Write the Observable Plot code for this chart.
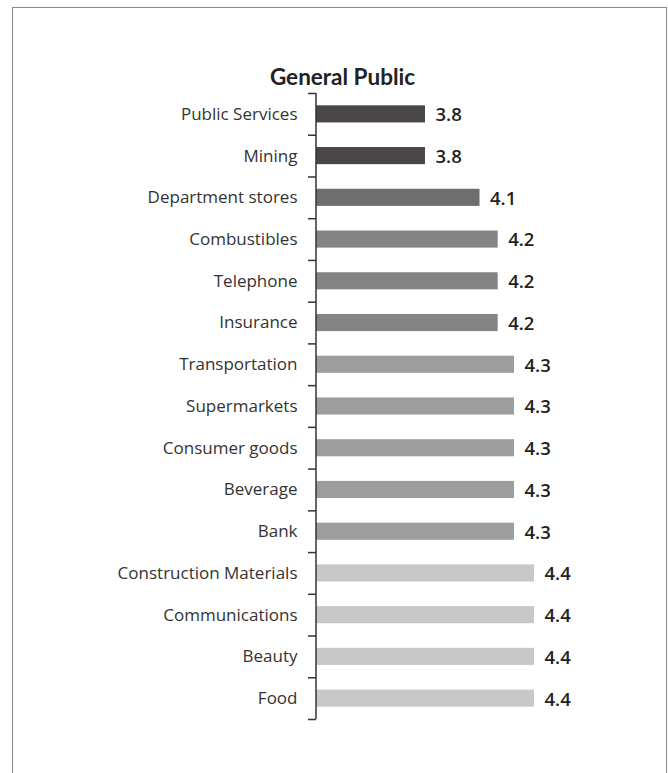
<!DOCTYPE html>
<html><head><meta charset="utf-8">
<script src="https://cdn.jsdelivr.net/npm/d3@7"></script>
<script src="https://cdn.jsdelivr.net/npm/@observablehq/plot@0.6"></script>
<style>
html,body{margin:0;padding:0;background:#fff;width:668px;height:773px;overflow:hidden;}
#frame{position:absolute;left:12px;top:7px;width:655px;height:820px;border:1.5px solid #8a8a8a;border-bottom:none;box-sizing:border-box;}
#title{position:absolute;left:0;width:685px;top:66px;line-height:22px;text-align:center;font-family:Lato,sans-serif;font-weight:bold;font-size:22.5px;color:#222;z-index:2;}
#chart{position:absolute;left:0;top:0;z-index:1;}
#chart svg{background:transparent;}
</style></head><body>
<div id="frame"></div>
<div id="title">General Public</div>
<div id="chart"></div>
<script>
const categories = ["Public Services","Mining","Department stores","Combustibles","Telephone","Insurance","Transportation","Supermarkets","Consumer goods","Beverage","Bank","Construction Materials","Communications","Beauty","Food"];
const values = [3.8,3.8,4.1,4.2,4.2,4.2,4.29,4.29,4.29,4.29,4.29,4.4,4.4,4.4,4.4];
const shadeKeys = ["3.8","4.1","4.2","4.3","4.4"];
const shadeColors = ["#4b4647","#706d6e","#858384","#9e9d9d","#c8c8c8"];
const baseline = 3.2;
const xMax = 4.4;

const data = categories.map((c, i) => ({category: c, value: values[i], label: values[i].toFixed(1)}));

const height = 773, marginTop = 93, marginBottom = 54;
const step = (height - marginTop - marginBottom) / categories.length;

const chart = Plot.plot({
  width: 668,
  height,
  marginTop,
  marginBottom,
  marginLeft: 316,
  marginRight: 134,
  style: {fontFamily: "'Open Sans', sans-serif", background: "transparent", color: "#333"},
  x: {domain: [baseline, xMax], axis: null},
  y: {domain: categories, paddingInner: 0.59, paddingOuter: 0.295, round: false, label: null},
  color: {type: "ordinal", domain: shadeKeys, range: shadeColors},
  marks: [
    Plot.barX(data, {x1: () => baseline, x2: "value", y: "category", fill: "label"}),
    Plot.axisY({tickSize: 0, tickPadding: 19, fontSize: 17, fill: "#333", label: null}),
    Plot.axisY({tickSize: 8, text: null, dy: -step / 2, stroke: "#333", strokeWidth: 1.5, label: null}),
    Plot.axisY([categories[categories.length - 1]], {tickSize: 8, text: null, dy: step / 2, stroke: "#333", strokeWidth: 1.5, label: null}),
    Plot.ruleX([baseline], {stroke: "#333", strokeWidth: 1.5, dx: -0.5}),
    Plot.text(data, {x: "value", y: "category", text: "label", dx: 10, dy: 1, textAnchor: "start", fontSize: 18.5, fontWeight: 600, fill: "#222"})
  ]
});
document.getElementById("chart").appendChild(chart);
</script>
</body></html>
